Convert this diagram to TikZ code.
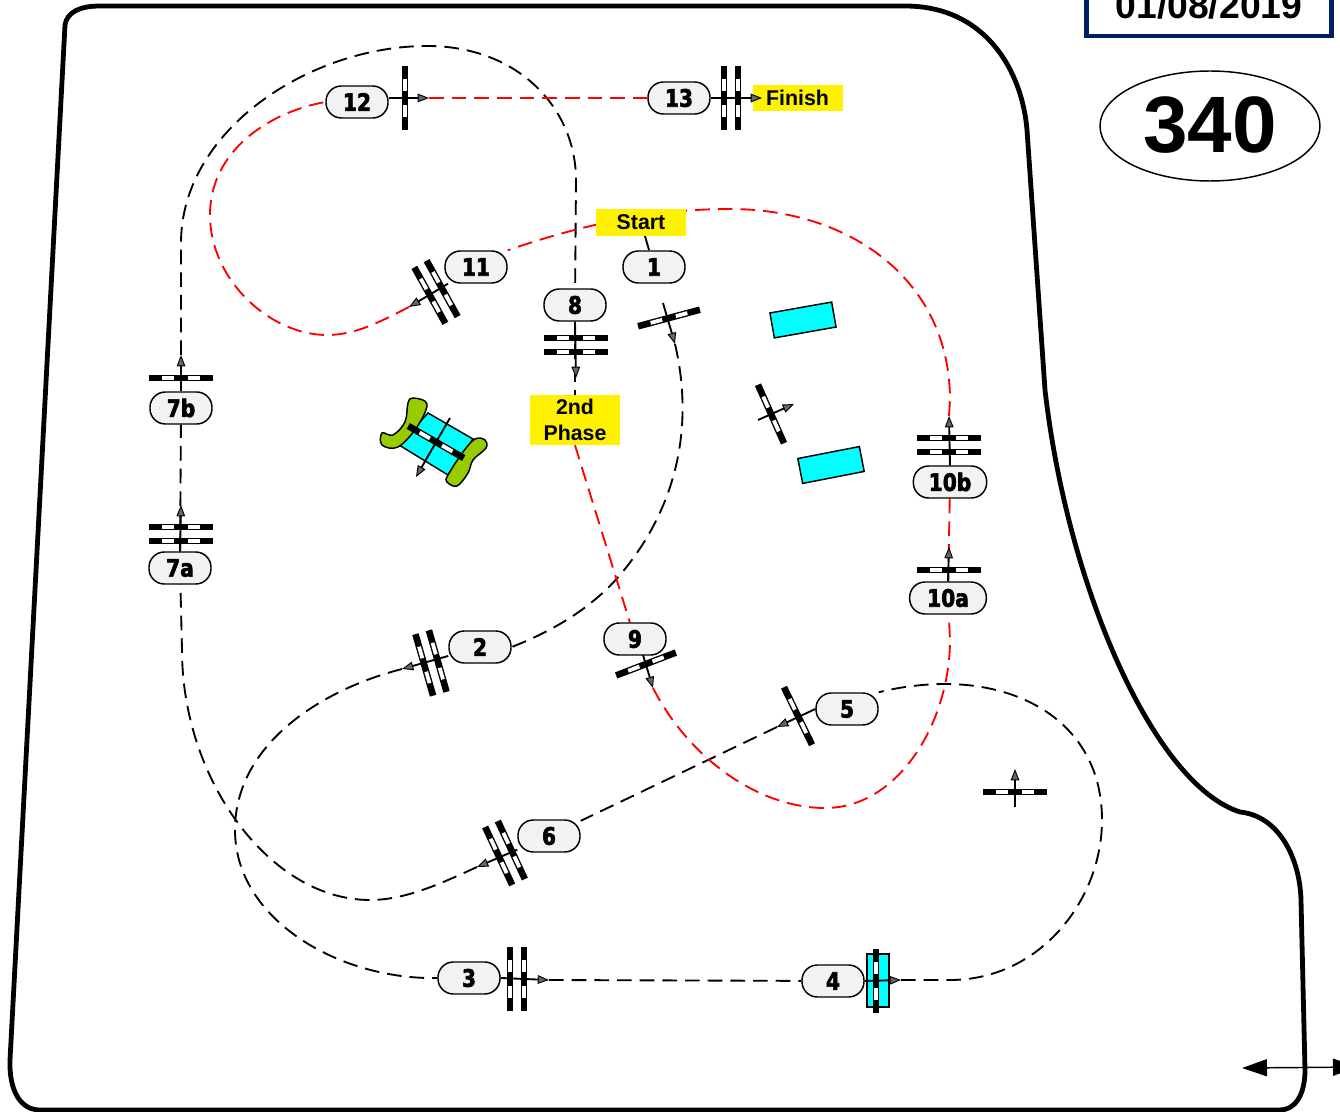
\documentclass[tikz,border=0pt]{standalone}
\usepackage{fontspec}
\setmainfont{Liberation Sans}
\newfontfamily\numfont[FakeStretch=0.84,BoldFeatures={FakeBold=2.5}]{DejaVu Sans}
\usetikzlibrary{arrows.meta,shapes.geometric,backgrounds}
\definecolor{tagfill}{HTML}{F2F2F2}
\definecolor{datenavy}{HTML}{002060}
\definecolor{bankgreen}{HTML}{99CC00}
\definecolor{pondcyan}{HTML}{00FFFF}
\newcommand\gatebar[1]{
  \fill (#1-3.3,-32) rectangle (#1+3.3,32);
  \foreach \s in {-13,13}
  \fill[white] (#1-1.9,\s-6) rectangle (#1+1.9,\s+6);
}
\tikzset{
  numtag/.style={draw,fill=tagfill,rounded corners=11.5pt,minimum width=46.5pt,minimum height=24pt,inner sep=0pt,line width=1.1pt,font=\numfont\bfseries\fontsize{18}{18}\selectfont},
  notice/.style={fill=yellow,inner sep=0pt,minimum width=67.5pt,align=center,font=\bfseries\fontsize{16}{19}\selectfont},
  wall/.style={draw,fill=pondcyan,line width=1.1pt,inner sep=0pt},
  bank/.style={draw,fill=bankgreen,line width=1.1pt},
  course/.style={dashed,dash pattern=on 11pt off 6pt,line width=1.4pt},
  redcourse/.style={course,red},
  signarrow/.style={line width=1.4pt,-{Triangle[length=8.5pt,width=6.5pt,fill=black!60,line width=.7pt]}},
  onebar/.pic={\gatebar{0}},
  twobar/.pic={\gatebar{-7}\gatebar{7}}
}
\begin{document}
\begin{tikzpicture}[x=.75pt,y=-.75pt]
\clip (0,0) rectangle (1340,1112);
% ring
\draw[line width=3.6pt,line join=round] (65,25) .. controls (67,12) and (80,6) .. (100,6) -- (905,6)
  .. controls (985,6) and (1022,70) .. (1027,130) -- (1045,390)
  .. controls (1068,590) and (1155,785) .. (1240,812)
  .. controls (1280,816) and (1300,860) .. (1301,900) -- (1305,1070)
  .. controls (1305,1095) and (1295,1110) .. (1280,1110) -- (40,1110)
  .. controls (20,1110) and (9,1090) .. (10,1060) -- cycle;
% date and number
\node[draw=datenavy,line width=3.4pt,minimum width=184pt,minimum height=46.5pt,inner sep=0pt,font=\bfseries\fontsize{28}{28}\selectfont] (date) at (1209,5) {01/08/2019};
\node[draw,ellipse,line width=1.1pt,minimum width=165pt,minimum height=82.5pt,inner sep=0pt,font=\bfseries\fontsize{60}{60}\selectfont] (number) at (1210,126) {\raisebox{2.5pt}{340}};
% walls and water
\node[wall,rotate=10,minimum width=47pt,minimum height=19pt] (wallA) at (803,320) {};
\node[wall,rotate=11,minimum width=47pt,minimum height=19pt] (wallB) at (831,465) {};
\node[wall,minimum width=16.5pt,minimum height=40pt] (tray) at (878,980.5) {};
\draw[wall] (428,413) -- (473,439) -- (448,475) -- (399,445) -- cycle;
\draw[bank] plot[smooth cycle,tension=.6] coordinates {(413,398) (427,404) (417,427) (398,447) (382,445) (382,433) (393,435) (405,422) (408,403)};
\draw[bank] plot[smooth cycle,tension=.6] coordinates {(485,440) (475,439) (463,452) (448,475) (447,482) (457,486) (468,473) (473,460) (486,448)};
% number tags
\foreach \n/\x/\y in {1/654/267,2/480/647,3/469/978,4/833/981,5/847/709,6/549/836,7a/180/568,7b/181/408,8/575/305,9/635/639,11/476/267,12/357/102,13/679/98}
\node[numtag] (l\n) at (\x,\y) {\n};
\node[numtag,minimum width=57.5pt] (l10a) at (948,598) {10a};
\node[numtag,minimum width=55pt] (l10b) at (950,482) {10b};
% notices
\node[notice,minimum height=20pt] (start) at (641,222.5) {Start};
\node[notice,minimum height=20pt] (finish) at (797.5,98) {Finish};
\node[notice,minimum height=37.5pt] (phase) at (575,420) {2nd\\Phase};
% gates
\foreach \x/\y/\r/\s in {669/318/-75/onebar,431/663/196/twobar,517/979/0/twobar,876/981/0/onebar,798/716/206/onebar,505/853/205/twobar,181/534/90/twobar,181/378/90/onebar,576/345/-90/twobar,646/664/-69/onebar,949/570/90/onebar,949/445/90/twobar,436/292/209/twobar,405/98/0/onebar,731/98/0/twobar,771/414/24/onebar,1015/792/90/onebar,436/442/-120/onebar}
\pic[rotate=\r] at (\x,\y) {\s};
% arrow ends
\foreach \n/\x/\y in {1/675/344,2/402/669,3/549/980,4/901/980,5/777/727,6/477/867,7a/181/505,7b/181/355,8/576/378,9/653/688,10a/949/547,10b/949/416,11/409/307,12/429/98,13/762/98,a/794/404,b/1015/769,c/416/477}
\coordinate (t\n) at (\x,\y);
\foreach \n/\x/\y in {1/663/303,9/643/655,a/758/420,b/1015/807,c/450/418}
\coordinate (b\n) at (\x,\y);
\foreach \a/\b in {b1/t1,l2/t2,l3.east/t3,l4.east/t4,l5.west/t5,l6/t6,l7a.north/t7a,l7b.north/t7b,l8.south/t8,b9/t9,l10a.north/t10a,l10b.north/t10b,l11/t11,ba/ta,bb/tb,bc/tc}
\draw[signarrow] (\a) -- (\b);
\draw[signarrow] (t12 -| l12.east) -- (t12);
\draw[signarrow] (t13 -| l13.east) -- (t13);
% side arrow
\coordinate (sideL) at (1242,1068);
\coordinate (sideR) at (1358,1067);
\draw[line width=1.1pt,{Triangle[length=18.75pt,width=12.75pt]}-{Triangle[length=18.75pt,width=12.75pt]}] (sideL) -- (sideR);
% track
\begin{scope}[on background layer]
\draw[course] (start) -- (l1);
\draw[course] (t1) .. controls (695,430) and (675,510) .. (620,575) .. controls (590,610) and (550,632) .. (l2.east);
\draw[course] (t2) .. controls (320,690) and (235,745) .. (235,830) .. controls (235,920) and (340,980) .. (l3.west);
\draw[course] (t3) -- (l4);
\draw[course] (t4) -- (950,980) .. controls (1040,980) and (1102,900) .. (1102,820) .. controls (1102,730) and (1030,684) .. (945,684) .. controls (920,684) and (895,688) .. (l5.north east);
\draw[course] (t5) -- (l6);
\draw[course] (t6) .. controls (440,884) and (405,900) .. (370,900) .. controls (270,900) and (182,780) .. (182,650) -- (l7a);
\draw[course] (l7a) -- (l7b);
\draw[course] (t7b) -- (181,243) .. controls (181,130) and (310,46) .. (427,46) .. controls (520,46) and (576,110) .. (576,180) -- (l8);
\draw[course] (l8) -- (phase);
\draw[redcourse] (phase.south) -- (l9);
\draw[redcourse] (t9) .. controls (690,760) and (760,808) .. (825,808) .. controls (900,808) and (950,720) .. (950,640) -- (l10a);
\draw[redcourse] (l10a) -- (l10b);
\draw[redcourse] (t10b) -- (950,400) .. controls (950,280) and (850,209) .. (730,209) .. controls (660,209) and (590,222) .. (l11.north east);
\draw[redcourse] (t11) .. controls (380,322) and (355,335) .. (327,335) .. controls (270,335) and (210,280) .. (210,215) .. controls (210,150) and (270,112) .. (l12.west);
\draw[redcourse] (t12) -- (l13);
\end{scope}
\end{tikzpicture}
\end{document}
